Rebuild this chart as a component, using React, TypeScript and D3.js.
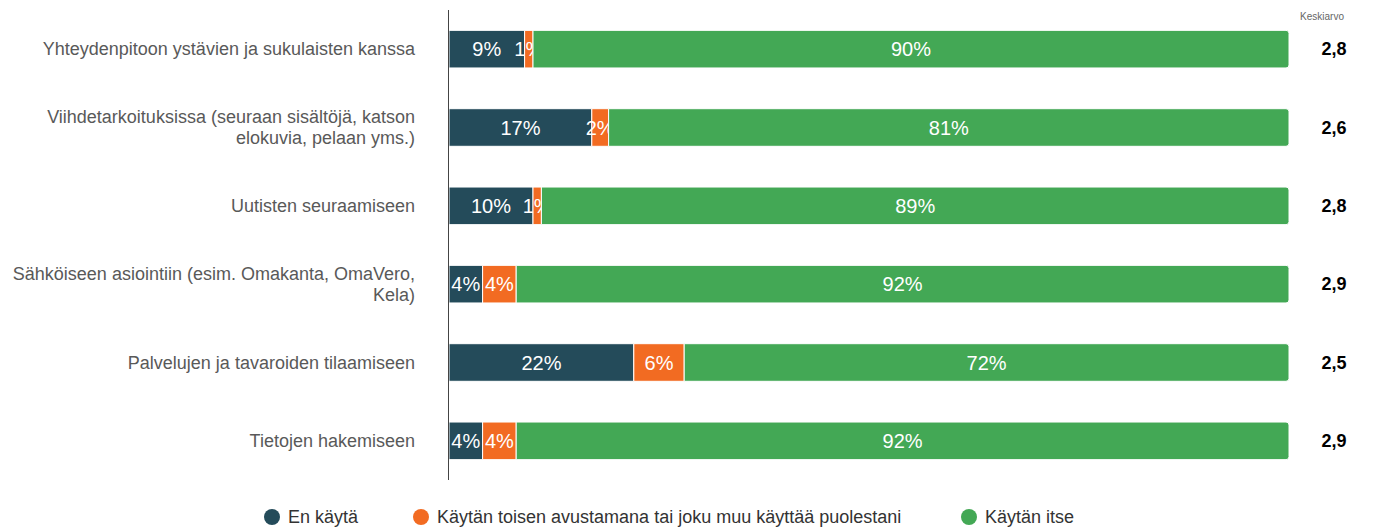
import React from "react";
import * as d3 from "d3";

const categories: string[][] = [
  ["Yhteydenpitoon ystävien ja sukulaisten kanssa"],
  ["Viihdetarkoituksissa (seuraan sisältöjä, katson", "elokuvia, pelaan yms.)"],
  ["Uutisten seuraamiseen"],
  ["Sähköiseen asiointiin (esim. Omakanta, OmaVero,", "Kela)"],
  ["Palvelujen ja tavaroiden tilaamiseen"],
  ["Tietojen hakemiseen"],
];
const enKayta = [9, 17, 10, 4, 22, 4];
const avustettu = [1, 2, 1, 4, 6, 4];
const itse = [90, 81, 89, 92, 72, 92];
const keskiarvo = ["2,8", "2,6", "2,8", "2,9", "2,5", "2,9"];
const seriesNames = ["En käytä", "Käytän toisen avustamana tai joku muu käyttää puolestani", "Käytän itse"];
const colors = ["#244B5A", "#F26B22", "#43A855"];

const W = 1373, H = 529;
const FONT = "'Liberation Sans', Arial, sans-serif";

export default function App() {
  const x = d3.scaleLinear().domain([0, 100]).range([449, 1289]);
  const y = d3.scaleBand<number>().domain(d3.range(6)).range([10, 480]).paddingInner(0.52).paddingOuter(0.26);
  const bh = y.bandwidth();
  const series = [enKayta, avustettu, itse];
  const legendX = [272, 421, 969];

  return (
    <svg width={W} height={H} style={{ position: "absolute", left: 0, top: 0, fontFamily: FONT }}>
      {categories.map((lines, i) => {
        const cy = y(i)! + bh / 2;
        const lh = 21;
        const y0 = cy - ((lines.length - 1) * lh) / 2;
        return (
          <text key={"c" + i} x={415} textAnchor="end" fontSize={18} fill="#595959">
            {lines.map((l, j) => (
              <tspan key={j} x={415} y={y0 + j * lh} dy="0.35em">{l}</tspan>
            ))}
          </text>
        );
      })}
      {categories.map((_, i) => {
        let acc = 0;
        const y0 = y(i)!;
        return (
          <g key={"b" + i}>
            {series.map((s, k) => {
              const v = s[i];
              const x0 = x(acc);
              const x1 = x(acc + v);
              acc += v;
              const w = x1 - x0;
              let d: string;
              if (k === 2) {
                const r = 3;
                d = `M${x0},${y0}H${x1 - r}Q${x1},${y0} ${x1},${y0 + r}V${y0 + bh - r}Q${x1},${y0 + bh} ${x1 - r},${y0 + bh}H${x0}Z`;
              } else {
                d = `M${x0},${y0}H${x1}V${y0 + bh}H${x0}Z`;
              }
              return (
                <g key={k}>
                  <path d={d} fill={colors[k]} stroke="#fff" strokeWidth={1} />
                  <text x={x0 + w / 2} y={y0 + bh / 2} dy="0.35em" textAnchor="middle" fontSize={20} fill="#fff">{v}%</text>
                </g>
              );
            })}
          </g>
        );
      })}
      <line x1={448.5} x2={448.5} y1={10} y2={480} stroke="#444" strokeWidth={1} />
      <text x={1322} y={16} dy="0.35em" textAnchor="middle" fontSize={10} fill="#666">Keskiarvo</text>
      {keskiarvo.map((v, i) => (
        <text key={"k" + i} x={1334} y={y(i)! + bh / 2} dy="0.35em" textAnchor="middle" fontSize={18} fontWeight="bold" fill="#000">{v}</text>
      ))}
      {seriesNames.map((n, k) => (
        <g key={"l" + k}>
          <circle cx={legendX[k]} cy={517} r={8} fill={colors[k]} />
          <text x={legendX[k] + 16} y={517} dy="0.35em" fontSize={18} fill="#333">{n}</text>
        </g>
      ))}
    </svg>
  );
}
